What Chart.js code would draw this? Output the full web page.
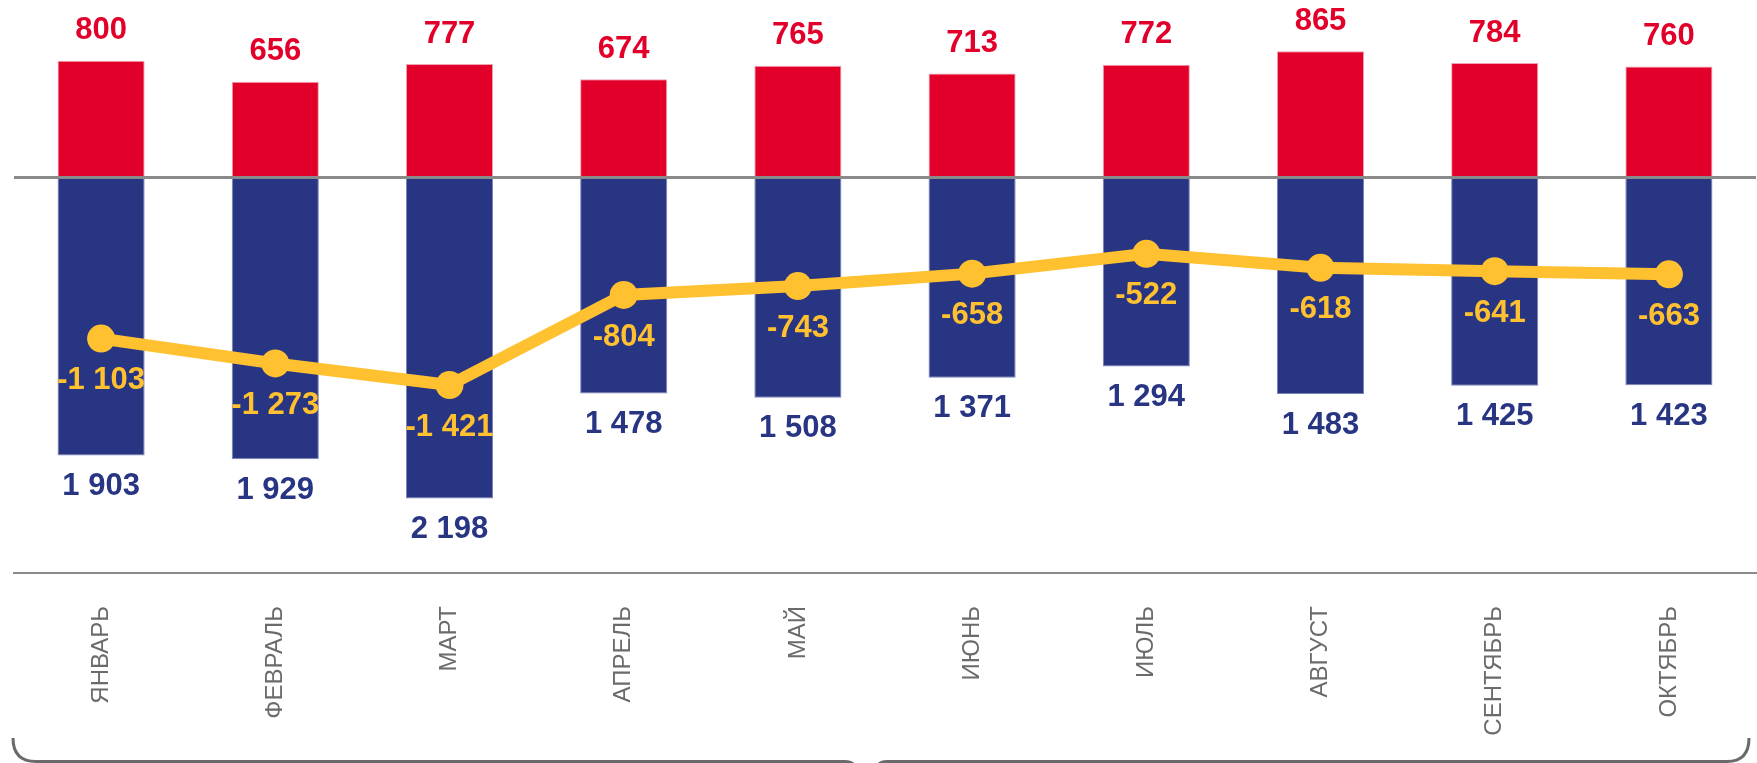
<!DOCTYPE html>
<html>
<head>
<meta charset="utf-8">
<script src="https://cdn.jsdelivr.net/npm/chart.js@4/dist/chart.umd.min.js"></script>
<style>
    body { margin: 0; background: #fff; overflow: hidden; }
    #wrap { width: 1770px; height: 763px; position: relative; }
</style>
</head>
<body>
<div id="wrap"><canvas id="balanceChart"></canvas></div>
<script>
const months = ['ЯНВАРЬ', 'ФЕВРАЛЬ', 'МАРТ', 'АПРЕЛЬ', 'МАЙ', 'ИЮНЬ', 'ИЮЛЬ', 'АВГУСТ', 'СЕНТЯБРЬ', 'ОКТЯБРЬ'];
const income = [800, 656, 777, 674, 765, 713, 772, 865, 784, 760];
const expense = [-1903, -1929, -2198, -1478, -1508, -1371, -1294, -1483, -1425, -1423];
const balance = [-1103, -1273, -1421, -804, -743, -658, -522, -618, -641, -663];

const RED = '#E2002A';
const BLUE = '#283583';
const YELLOW = '#FFC12F';
const LABEL_FONT = 'bold 31px "Liberation Sans", Arial, sans-serif';

const fmt = v => String(Math.abs(v)).replace(/\B(?=(\d{3})+(?!\d))/g, ' ');
const fmtSigned = v => (v < 0 ? '-' : '') + fmt(v);

// zero line goes over the bars but under the balance line
const zeroLine = {
    id: 'zeroLine',
    beforeDatasetDraw(chart, args) {
        if (args.index !== 2) return;
        const { ctx, chartArea } = chart;
        const y = chart.scales.y.getPixelForValue(0);
        ctx.save();
        ctx.strokeStyle = '#8a8a8a';
        ctx.lineWidth = 3;
        ctx.beginPath();
        ctx.moveTo(chartArea.left, y);
        ctx.lineTo(chartArea.right, y);
        ctx.stroke();
        ctx.restore();
    }
};

const valueLabels = {
    id: 'valueLabels',
    afterDatasetsDraw(chart) {
        const ctx = chart.ctx;
        ctx.save();
        ctx.font = LABEL_FONT;
        ctx.textAlign = 'center';
        ctx.textBaseline = 'middle';
        chart.getDatasetMeta(0).data.forEach((el, i) => {
            ctx.fillStyle = RED;
            ctx.fillText(fmt(income[i]), el.x, el.y - 30);
        });
        chart.getDatasetMeta(1).data.forEach((el, i) => {
            ctx.fillStyle = BLUE;
            ctx.fillText(fmt(expense[i]), el.x, el.y + 31);
        });
        chart.getDatasetMeta(2).data.forEach((el, i) => {
            ctx.fillStyle = YELLOW;
            ctx.fillText(fmtSigned(balance[i]), el.x, el.y + 42);
        });
        ctx.restore();
    }
};

// rounded bracket at the bottom of the slide
const bracket = {
    id: 'bracket',
    afterDraw(chart) {
        const ctx = chart.ctx;
        const h = chart.height;
        const w = 1757;
        const mid = 865;
        ctx.save();
        ctx.strokeStyle = '#6a6a6a';
        ctx.lineWidth = 3;
        ctx.beginPath();
        ctx.moveTo(13, h - 25);
        ctx.quadraticCurveTo(13, h - 1.5, 36, h - 1.5);
        ctx.lineTo(mid - 20, h - 1.5);
        ctx.quadraticCurveTo(mid - 12, h - 1.5, mid - 10, h + 4);
        ctx.moveTo(mid + 12, h + 4);
        ctx.quadraticCurveTo(mid + 14, h - 1.5, mid + 22, h - 1.5);
        ctx.lineTo(w - 30, h - 1.5);
        ctx.quadraticCurveTo(w - 8, h - 1.5, w - 8, h - 25);
        ctx.stroke();
        ctx.restore();
    }
};

new Chart(document.getElementById('balanceChart').getContext('2d'), {
    type: 'bar',
    data: {
        labels: months,
        datasets: [
            {
                label: 'Доходы',
                data: income,
                backgroundColor: RED,
                borderColor: '#f0a0b0',
                borderWidth: 1,
                barPercentage: 0.5,
                categoryPercentage: 1,
                order: 2
            },
            {
                label: 'Расходы',
                data: expense,
                backgroundColor: BLUE,
                borderColor: '#7a82b8',
                borderWidth: 1,
                barPercentage: 0.5,
                categoryPercentage: 1,
                order: 1
            },
            {
                type: 'line',
                label: 'Сальдо',
                data: balance,
                borderColor: YELLOW,
                backgroundColor: YELLOW,
                borderWidth: 12,
                tension: 0,
                pointRadius: 14,
                pointBorderWidth: 0,
                pointBackgroundColor: YELLOW,
                order: 0
            }
        ]
    },
    options: {
        responsive: true,
        maintainAspectRatio: false,
        animation: false,
        layout: { padding: { left: 14, right: 0, top: 0, bottom: 0 } },
        plugins: {
            legend: { display: false },
            tooltip: { enabled: false }
        },
        scales: {
            x: {
                stacked: true,
                grid: { display: false },
                border: { display: true, color: '#8a8a8a', width: 2 },
                ticks: {
                    color: '#6b6b6b',
                    font: { family: '"Liberation Sans", Arial, sans-serif', size: 24 },
                    minRotation: 90,
                    maxRotation: 90,
                    padding: 25
                },
                afterFit(scale) { scale.height = 190; }
            },
            y: {
                display: false,
                min: -2708,
                max: 1120
            }
        }
    },
    plugins: [zeroLine, valueLabels, bracket]
});
</script>
</body>
</html>
